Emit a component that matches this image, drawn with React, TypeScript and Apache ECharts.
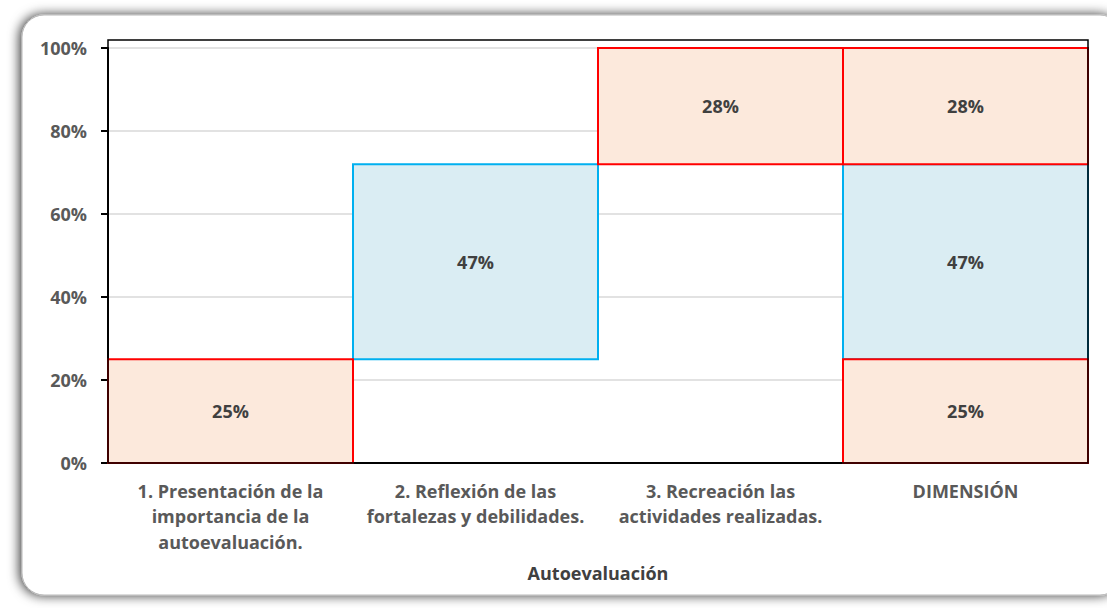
import React, { useEffect, useRef } from "react";
import * as echarts from "echarts";

const categories = [
  "1. Presentación de la\nimportancia de la\nautoevaluación.",
  "2. Reflexión de las\nfortalezas y debilidades.",
  "3. Recreación las\nactividades realizadas.",
  "DIMENSIÓN",
];
// Individual contributions of each item (waterfall)
const itemValues = [0.25, 0.47, 0.28];
const itemKinds = ["orange", "blue", "orange"];
// Dimension breakdown (stacked in last column)
const dimensionValues = [0.25, 0.47, 0.28];
const yTicks = [0, 0.2, 0.4, 0.6, 0.8, 1.0];
const xAxisTitle = "Autoevaluación";

const STYLES: Record<string, { fill: string; stroke: string }> = {
  orange: { fill: "#FCE9DC", stroke: "#FF0000" },
  blue: { fill: "#DAEDF3", stroke: "#00B0F0" },
};
const FONT = "Open Sans";

export default function App() {
  const ref = useRef<HTMLDivElement>(null);
  useEffect(() => {
    if (!ref.current) return;
    const chart = echarts.init(ref.current, undefined, { renderer: "svg" });

    const segs: any[] = [];
    let acc = 0;
    itemValues.forEach((v, i) => {
      segs.push({ value: [i, acc, acc + v, v], kind: itemKinds[i] });
      acc += v;
    });
    let acc2 = 0;
    dimensionValues.forEach((v, i) => {
      segs.push({ value: [3, acc2, acc2 + v, v], kind: itemKinds[i] });
      acc2 += v;
    });
    // draw blue first, orange (red edges) on top
    segs.sort((a, b) => (a.kind === b.kind ? 0 : a.kind === "blue" ? -1 : 1));

    chart.setOption({
      animation: false,
      graphic: [
        {
          type: "rect",
          z: -10,
          shape: { x: 22, y: 15, width: 1100, height: 580, r: 22 },
          style: {
            fill: "#ffffff",
            stroke: "#b8b8b8",
            lineWidth: 1,
            shadowBlur: 12,
            shadowColor: "rgba(0,0,0,0.8)",
            shadowOffsetX: -2,
            shadowOffsetY: 0,
          },
        },
        {
          type: "rect",
          z: 100,
          silent: true,
          shape: { x: 108, y: 40, width: 980, height: 423 },
          style: { fill: "none", stroke: "#000000", lineWidth: 1.5 },
        },
      ],
      grid: { left: 108, right: 19, top: 48, bottom: 145, containLabel: false },
      xAxis: {
        type: "category",
        data: categories,
        name: xAxisTitle,
        nameLocation: "middle",
        nameGap: 101,
        nameTextStyle: { color: "#404040", fontFamily: FONT, fontWeight: "bold", fontSize: 18 },
        axisLine: { lineStyle: { color: "#000000", width: 2 } },
        axisTick: { show: false },
        axisLabel: {
          color: "#595959",
          fontFamily: FONT,
          fontWeight: "bold",
          fontSize: 18,
          lineHeight: 25.5,
          margin: 15,
          interval: 0,
        },
      },
      yAxis: {
        type: "value",
        min: 0,
        max: 1,
        interval: 0.2,
        axisLine: { show: true, lineStyle: { color: "#000000", width: 2 } },
        axisTick: { show: true, length: 7, lineStyle: { color: "#000000", width: 2 } },
        splitLine: { lineStyle: { color: "#D9D9D9", width: 1.5 } },
        axisLabel: {
          color: "#595959",
          fontFamily: FONT,
          fontWeight: "bold",
          fontSize: 18,
          margin: 21,
          formatter: (v: number) =>
            yTicks.some((t) => Math.abs(t - v) < 1e-9) ? Math.round(v * 100) + "%" : "",
        },
      },
      series: [
        {
          type: "custom",
          data: segs.map((s) => ({ value: s.value })),
          encode: { x: 0, y: [1, 2] },
          renderItem: (params: any, api: any) => {
            const cat = api.value(0);
            const start = api.value(1);
            const end = api.value(2);
            const val = api.value(3);
            const st = STYLES[segs[params.dataIndex].kind];
            const p0 = api.coord([cat, start]);
            const p1 = api.coord([cat, end]);
            const w = api.size([1, 0])[0];
            const x = p0[0] - w / 2;
            const y = p1[1];
            const h = p0[1] - p1[1];
            return {
              type: "group",
              children: [
                {
                  type: "rect",
                  shape: { x, y, width: w, height: h },
                  style: { fill: st.fill, stroke: st.stroke, lineWidth: 2 },
                },
                {
                  type: "text",
                  style: {
                    x: p0[0],
                    y: y + h / 2,
                    text: Math.round(val * 100) + "%",
                    fill: "#404040",
                    font: `bold 18px '${FONT}'`,
                    align: "center",
                    verticalAlign: "middle",
                  },
                },
              ],
            };
          },
        },
      ],
    });
    return () => chart.dispose();
  }, []);
  return (
    <div
      ref={ref}
      style={{ position: "fixed", left: 0, top: 0, width: 1107, height: 608, background: "#ffffff" }}
    />
  );
}
